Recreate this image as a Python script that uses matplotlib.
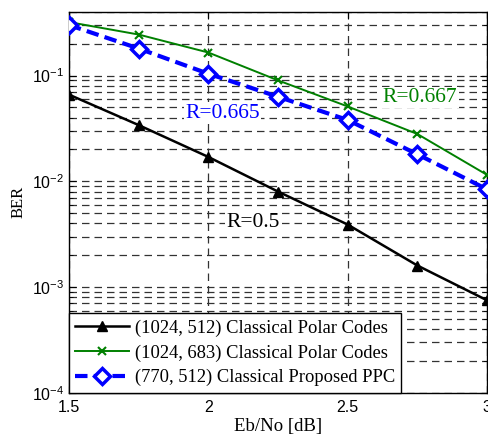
import numpy as np
import matplotlib
matplotlib.use("Agg")
import matplotlib.pyplot as plt

# Eb/No operating points and measured BER for each code
ebno = [1.5, 1.75, 2.0, 2.25, 2.5, 2.75, 3.0]
ber_1024_512 = [0.066, 0.034, 0.017, 0.0080, 0.0039, 0.0016, 0.00075]
ber_1024_683 = [0.32, 0.244, 0.165, 0.090, 0.051, 0.028, 0.0115]
ber_770_512 = [0.30, 0.18, 0.104, 0.063, 0.038, 0.018, 0.0084]

labels = ["(1024, 512) Classical Polar Codes",
          "(1024, 683) Classical Polar Codes",
          "(770, 512) Classical Proposed PPC"]
x_ticks = [1.5, 2, 2.5, 3]
x_tick_labels = ["1.5", "2", "2.5", "3"]

serif = ["Liberation Serif", "DejaVu Serif"]
sans = ["Liberation Sans", "DejaVu Sans"]

fig = plt.figure(figsize=(4.89, 4.38), dpi=100)
ax = fig.add_axes([0.141, 0.103, 0.855, 0.870])

ax.semilogy(ebno, ber_1024_512, color="black", lw=1.8, marker="^", ms=7,
            label=labels[0], zorder=4)
ax.semilogy(ebno, ber_1024_683, color="#008000", lw=1.4, marker="x", ms=6,
            mew=1.5, label=labels[1], zorder=4)
ax.semilogy(ebno, ber_770_512, color="#0000ff", lw=3, ls=(0, (3, 1.5)),
            marker="D", ms=8, mfc="white", mew=2.5, label=labels[2], zorder=5)

ax.set_xlim(1.5, 3.0)
ax.set_ylim(1e-4, 0.4)
ax.set_xticks(x_ticks)
ax.set_xticklabels(x_tick_labels)

ax.grid(True, which="major", axis="x", color="#333333", ls=(0, (6, 4)), lw=0.9)
ax.grid(True, which="both", axis="y", color="#333333", ls=(0, (6, 4)), lw=0.9)

ax.tick_params(which="both", direction="in", top=True, right=True)
ax.tick_params(which="major", length=5, labelsize=11.5)
ax.tick_params(axis="x", which="major", pad=5)
ax.tick_params(which="minor", length=3)
for lab in ax.get_xticklabels() + ax.get_yticklabels():
    lab.set_fontfamily(sans)

for sp in ax.spines.values():
    sp.set_linewidth(1.0)

ax.set_xlabel("Eb/No [dB]", family=serif, fontsize=13.5, labelpad=2)
ax.set_ylabel("BER", family=serif, fontsize=12, labelpad=4)

note_box = dict(facecolor="white", edgecolor="none", pad=1.0)
ax.text(2.05, 0.044, "R=0.665", color="#0000ff", family=serif, fontsize=15.5,
        ha="center", va="center", bbox=note_box, zorder=3)
ax.text(2.76, 0.062, "R=0.667", color="#008000", family=serif, fontsize=15.5,
        ha="center", va="center", bbox=note_box, zorder=3)
ax.text(2.16, 0.0041, "R=0.5", color="black", family=serif, fontsize=15.5,
        ha="center", va="center", bbox=note_box, zorder=3)

leg = ax.legend(loc="lower left", bbox_to_anchor=(0, 0), borderaxespad=0,
                prop={"family": serif, "size": 13.3}, handlelength=2.9,
                handletextpad=0.3, labelspacing=0.4, borderpad=0.35,
                fancybox=False, framealpha=1, edgecolor="black")
leg.get_frame().set_linewidth(1.0)
leg.set_zorder(10)

fig.savefig("out.png", dpi=100)
